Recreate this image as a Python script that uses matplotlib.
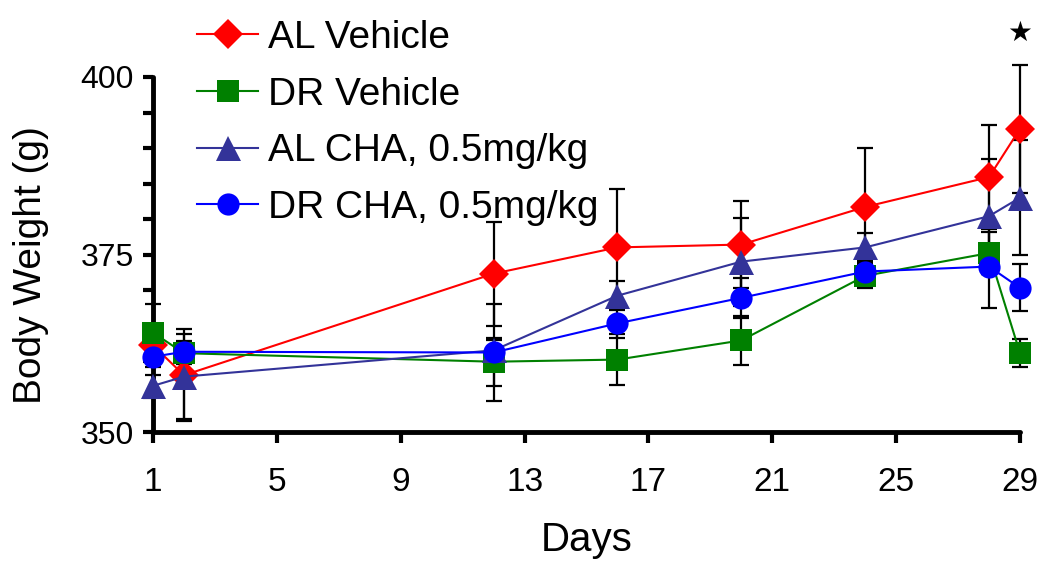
import matplotlib
matplotlib.use("Agg")
import matplotlib.pyplot as plt

plt.rcParams['font.family'] = ['Liberation Sans', 'DejaVu Sans']

# Body weight over the study (g), mean +/- error
days = [1, 2, 12, 16, 20, 24, 28, 29]

al_vehicle = [362.2, 358.0, 372.3, 376.0, 376.4, 381.7, 385.9, 392.7]
al_vehicle_err = [2.0, 6.5, 7.3, 8.2, 6.1, 8.3, 7.3, 9.0]

dr_vehicle = [364.0, 361.1, 359.9, 360.2, 362.9, 372.0, 375.2, 361.1]
dr_vehicle_err = [4.0, 1.5, 3.4, 3.6, 3.4, 1.7, 3.0, 2.0]

al_cha = [356.5, 357.8, 361.5, 369.2, 374.0, 376.0, 380.4, 383.0]
al_cha_err = [1.5, 6.0, 1.5, 2.0, 6.2, 2.0, 8.1, 8.1]

dr_cha = [360.6, 361.3, 361.2, 365.3, 368.9, 372.6, 373.3, 370.3]
dr_cha_err = [1.5, 1.5, 6.8, 2.0, 2.8, 1.5, 5.8, 3.3]

labels = ["AL Vehicle", "DR Vehicle", "AL CHA, 0.5mg/kg", "DR CHA, 0.5mg/kg"]
colors = ["#ff0000", "#008000", "#333399", "#0000ff"]
markers = ["D", "s", "^", "o"]
msizes = [15, 16, 18, 16]

series = [(al_vehicle, al_vehicle_err), (dr_vehicle, dr_vehicle_err),
          (al_cha, al_cha_err), (dr_cha, dr_cha_err)]

fig = plt.figure(figsize=(10.5, 5.69), dpi=100)
ax = fig.add_axes([153 / 1050, 1 - 432 / 569, 867 / 1050, 355 / 569])

# error bars first so the markers sit on top
for vals, errs in series:
    eb = ax.errorbar(days, vals, yerr=errs, fmt='none', ecolor='black',
                     elinewidth=1.6, capsize=6, capthick=1.6, zorder=2)
    for part in eb.lines[1] + eb.lines[2]:
        part.set_clip_on(False)

for (vals, errs), lab, c, m, ms in zip(series, labels, colors, markers, msizes):
    ax.plot(days, vals, color=c, marker=m, markersize=ms, markeredgewidth=0,
            linewidth=1.5, label=lab, clip_on=False, zorder=3)

# significance star on the last day
ax.text(29, 406.2, "★", fontsize=20, ha='center', va='center',
        family=['DejaVu Sans'], color='black', clip_on=False)

ax.set_xlim(1, 29)
ax.set_ylim(350, 400)
ax.set_xticks([1, 5, 9, 13, 17, 21, 25, 29])
ax.set_yticks([350, 375, 400])
ax.set_yticks(range(350, 401, 5), minor=True)

for side in ['top', 'right']:
    ax.spines[side].set_visible(False)
for side in ['left', 'bottom']:
    ax.spines[side].set_linewidth(3.5)
    ax.spines[side].set_capstyle('round')

ax.tick_params(axis='x', which='major', direction='out', length=8, width=3,
               pad=17, labelsize=24)
ax.tick_params(axis='y', which='major', direction='out', length=7, width=3,
               pad=7, labelsize=23)
ax.tick_params(axis='y', which='minor', direction='out', length=7, width=3)

ax.set_xlabel("Days", fontsize=29)
ax.set_ylabel("Body Weight (g)", fontsize=28)
ax.xaxis.set_label_coords(0.5, -0.305)
ax.xaxis.label.set_va('center')
ax.yaxis.set_label_coords(-0.141, 0.47)
ax.yaxis.label.set_va('center')

leg = ax.legend(loc='upper left', bbox_to_anchor=(197 / 1050, 0.965),
                bbox_transform=fig.transFigure, frameon=False, fontsize=28,
                numpoints=1, borderpad=0, borderaxespad=0, handlelength=1.57,
                handletextpad=0.26, labelspacing=0.53)

fig.savefig("out.png", dpi=100)
